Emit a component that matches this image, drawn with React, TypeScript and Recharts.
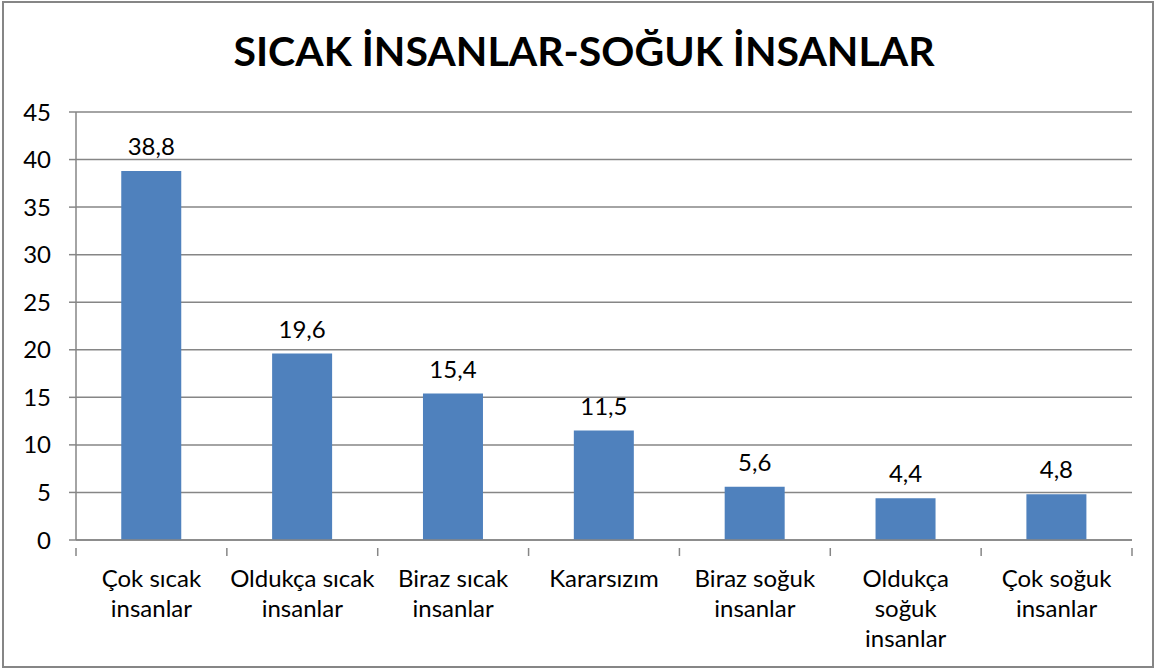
import { Bar, BarChart, CartesianGrid, LabelList, XAxis, YAxis } from 'recharts'

const categories = [
  'Çok sıcak insanlar',
  'Oldukça sıcak insanlar',
  'Biraz sıcak insanlar',
  'Kararsızım',
  'Biraz soğuk insanlar',
  'Oldukça soğuk insanlar',
  'Çok soğuk insanlar',
]

const labelLines = [
  ['Çok sıcak', 'insanlar'],
  ['Oldukça sıcak', 'insanlar'],
  ['Biraz sıcak', 'insanlar'],
  ['Kararsızım'],
  ['Biraz soğuk', 'insanlar'],
  ['Oldukça', 'soğuk', 'insanlar'],
  ['Çok soğuk', 'insanlar'],
]

const values = [38.8, 19.6, 15.4, 11.5, 5.6, 4.4, 4.8]

const yTicks = [0, 5, 10, 15, 20, 25, 30, 35, 40, 45]

const data = categories.map((name, i) => ({ name, value: values[i] }))

const W = 1158
const H = 672
const X_AXIS_H = 30
const M = { top: 112, right: 26, bottom: 132 - X_AXIS_H, left: 0 }
const Y_AXIS_W = 76
const FONT = 'Lato, "Open Sans", sans-serif'
const FS = 24
const GRID = '#868686'

function CategoryTick(props: any) {
  const { x, y, index } = props
  const step = (W - M.right - Y_AXIS_W - M.left) / categories.length
  const lines = labelLines[index] ?? []
  return (
    <g>
      <line x1={x - step / 2} y1={y} x2={x - step / 2} y2={y + 8} stroke={GRID} strokeWidth={1.5} />
      {index === categories.length - 1 && (
        <line x1={x + step / 2} y1={y} x2={x + step / 2} y2={y + 8} stroke={GRID} strokeWidth={1.5} />
      )}
      <text textAnchor="middle" fill="#000" fontSize={FS} fontFamily={FONT}>
        {lines.map((line, i) => (
          <tspan key={i} x={x} y={y + 39 + i * 30}>
            {line}
          </tspan>
        ))}
      </text>
    </g>
  )
}

export default function App() {
  return (
    <div
      style={{
        position: 'absolute',
        left: 0,
        top: 0,
        width: W,
        height: H,
        background: '#fff',
      }}
    >
      <div
        style={{
          position: 'absolute',
          left: 2,
          top: 1,
          width: W - 6,
          height: H - 5,
          border: `2px solid ${GRID}`,
          boxSizing: 'border-box',
        }}
      />
      <div
        style={{
          position: 'absolute',
          left: 0,
          width: W + 10,
          top: 26,
          textAlign: 'center',
          fontFamily: FONT,
          fontWeight: 700,
          fontSize: 41,
          color: '#000',
        }}
      >
        SICAK İNSANLAR-SOĞUK İNSANLAR
      </div>
      <BarChart
        width={W}
        height={H}
        data={data}
        margin={M}
        barCategoryGap="30%"
        style={{ position: 'absolute', left: 0, top: 0 }}
      >
        <CartesianGrid vertical={false} stroke={GRID} strokeWidth={1.5} />
        <XAxis
          dataKey="name"
          height={X_AXIS_H}
          axisLine={{ stroke: GRID, strokeWidth: 1.5 }}
          tickLine={false}
          interval={0}
          tick={<CategoryTick />}
        />
        <YAxis
          width={Y_AXIS_W}
          domain={[0, 45]}
          ticks={yTicks}
          interval={0}
          axisLine={{ stroke: GRID, strokeWidth: 1.5 }}
          tickLine={{ stroke: GRID, strokeWidth: 1.5 }}
          tickSize={7}
          tickMargin={18}
          tick={{ fill: '#000', fontSize: FS, fontFamily: FONT }}
        />
        <Bar dataKey="value" fill="#4F81BD" isAnimationActive={false}>
          <LabelList
            dataKey="value"
            position="top"
            offset={16}
            fill="#000"
            fontSize={FS}
            fontFamily={FONT}
            formatter={(v: any) => String(v).replace('.', ',')}
          />
        </Bar>
      </BarChart>
    </div>
  )
}
